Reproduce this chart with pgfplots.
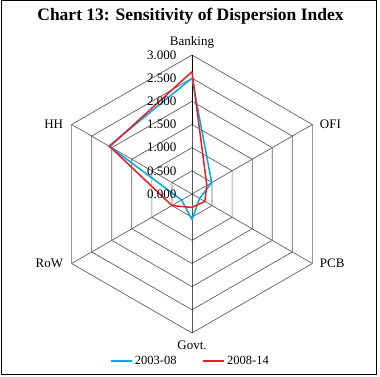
\documentclass[border=0pt]{standalone}
\usepackage{fontspec}
\setmainfont{Liberation Serif}
\usepackage{pgfplots}
\pgfplotsset{compat=1.18}
\usepgfplotslibrary{polar}
\definecolor{serA}{RGB}{0,168,236}
\definecolor{serB}{RGB}{237,28,36}
\definecolor{gridc}{RGB}{95,95,95}
\begin{document}
\begin{tikzpicture}
\useasboundingbox (-192pt,-183pt) rectangle (188pt,194pt);
\draw[line width=1pt,black] (-190.5pt,-180.5pt) rectangle (184.5pt,193.5pt);
\node[font=\bfseries\fontsize{17.5}{20}\selectfont] at (-1.5pt,178pt) {Chart 13: Sensitivity of Dispersion Index};
\begin{polaraxis}[
  at={(0pt,0pt)}, anchor=origin,
  scale only axis, width=278pt, height=278pt,
  ymin=0, ymax=3, xmin=0, xmax=360,
  hide axis, clip=false,
  legend columns=2,
  legend style={at={(0.495,-0.101)}, anchor=center, draw=none, fill=none,
    font=\fontsize{12.5}{14}\selectfont,
    /tikz/every even column/.append style={column sep=24pt}},
  legend image code/.code={\draw[#1] (0pt,0pt) -- (21pt,0pt);},
  every axis plot/.append style={line join=round},
]
% hexagonal rings
\addplot[gridc, line width=0.7pt, forget plot] coordinates {(90,0.5)(30,0.5)(330,0.5)(270,0.5)(210,0.5)(150,0.5)(90,0.5)};
\addplot[gridc, line width=0.7pt, forget plot] coordinates {(90,1.0)(30,1.0)(330,1.0)(270,1.0)(210,1.0)(150,1.0)(90,1.0)};
\addplot[gridc, line width=0.7pt, forget plot] coordinates {(90,1.5)(30,1.5)(330,1.5)(270,1.5)(210,1.5)(150,1.5)(90,1.5)};
\addplot[gridc, line width=0.7pt, forget plot] coordinates {(90,2.0)(30,2.0)(330,2.0)(270,2.0)(210,2.0)(150,2.0)(90,2.0)};
\addplot[gridc, line width=0.7pt, forget plot] coordinates {(90,2.5)(30,2.5)(330,2.5)(270,2.5)(210,2.5)(150,2.5)(90,2.5)};
\addplot[gridc, line width=0.7pt, forget plot] coordinates {(90,3.0)(30,3.0)(330,3.0)(270,3.0)(210,3.0)(150,3.0)(90,3.0)};
% spokes
\addplot[gridc, line width=0.7pt, forget plot] coordinates {(30,0)(30,3)};
\addplot[gridc, line width=0.7pt, forget plot] coordinates {(330,0)(330,3)};
\addplot[gridc, line width=0.7pt, forget plot] coordinates {(210,0)(210,3)};
\addplot[gridc, line width=0.7pt, forget plot] coordinates {(150,0)(150,3)};
\addplot[black, line width=0.75pt, forget plot] coordinates {(270,3)(270,0)(90,0)(90,3)};
% data
\addplot[serA, line width=1.5pt] coordinates {(90,2.50)(30,0.49)(330,0.19)(270,0.55)(210,0.26)(150,2.07)(90,2.50)};
\addlegendentry{2003-08}
\addplot[serB, line width=1.5pt] coordinates {(90,2.64)(30,0.37)(330,0.32)(270,0.29)(210,0.50)(150,2.05)(90,2.64)};
\addlegendentry{2008-14}
% value labels
\node[anchor=east, xshift=-12pt, font=\fontsize{13}{15}\selectfont] at (axis cs:90,3.0) {3.000};
\node[anchor=east, xshift=-12pt, font=\fontsize{13}{15}\selectfont] at (axis cs:90,2.5) {2.500};
\node[anchor=east, xshift=-12pt, font=\fontsize{13}{15}\selectfont] at (axis cs:90,2.0) {2.000};
\node[anchor=east, xshift=-12pt, font=\fontsize{13}{15}\selectfont] at (axis cs:90,1.5) {1.500};
\node[anchor=east, xshift=-12pt, font=\fontsize{13}{15}\selectfont] at (axis cs:90,1.0) {1.000};
\node[anchor=east, xshift=-12pt, font=\fontsize{13}{15}\selectfont] at (axis cs:90,0.5) {0.500};
\node[anchor=east, xshift=-12pt, font=\fontsize{13}{15}\selectfont] at (axis cs:90,0.0) {0.000};
% category labels
\node[yshift=13pt, font=\fontsize{13}{15}\selectfont] at (axis cs:90,3) {Banking};
\node[anchor=west, xshift=4pt, font=\fontsize{13}{15}\selectfont] at (axis cs:30,3) {OFI};
\node[anchor=west, xshift=4pt, font=\fontsize{13}{15}\selectfont] at (axis cs:330,3) {PCB};
\node[yshift=-12pt, font=\fontsize{13}{15}\selectfont] at (axis cs:270,3) {Govt.};
\node[anchor=east, xshift=-5pt, font=\fontsize{13}{15}\selectfont] at (axis cs:210,3) {RoW};
\node[anchor=east, xshift=-5pt, font=\fontsize{13}{15}\selectfont] at (axis cs:150,3) {HH};
\end{polaraxis}
\end{tikzpicture}
\end{document}
